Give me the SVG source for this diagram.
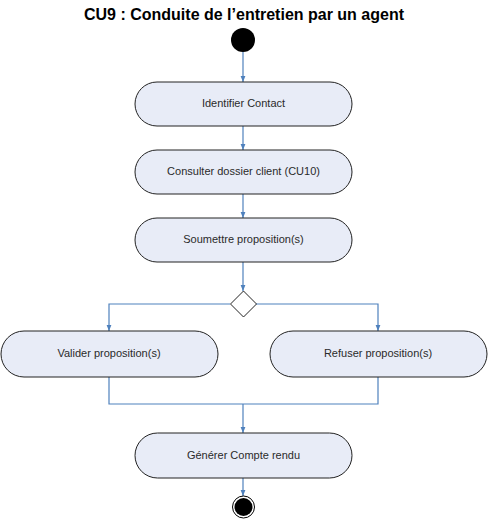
<svg xmlns="http://www.w3.org/2000/svg" width="488" height="520" viewBox="0 0 488 520">
<style>
.t{font-family:"Liberation Sans",Arial,sans-serif;font-size:11px;fill:#2a2a2a;text-anchor:middle}
.title{font-family:"Liberation Sans",Arial,sans-serif;font-size:16px;font-weight:bold;fill:#000;text-anchor:middle}
.act{fill:#E8ECF7;stroke:#222;stroke-width:1}
.c{fill:none;stroke:#4F81BD;stroke-width:1.2}
</style>
<defs>
<marker id="arr" viewBox="0 0 10 10" refX="10" refY="5" markerWidth="6" markerHeight="6" orient="auto" markerUnits="userSpaceOnUse">
<path d="M0,1 L10,5 L0,9 Z" fill="#4F81BD"/>
</marker>
</defs>
<rect width="488" height="520" fill="#fff"/>
<text class="title" x="244" y="20">CU9 : Conduite de l’entretien par un agent</text>
<g id="connectors">
<line class="c" x1="243" y1="52" x2="243" y2="82" marker-end="url(#arr)"/>
<line class="c" x1="243" y1="126" x2="243" y2="150" marker-end="url(#arr)"/>
<line class="c" x1="243" y1="194" x2="243" y2="218" marker-end="url(#arr)"/>
<line class="c" x1="243" y1="262" x2="243" y2="291" marker-end="url(#arr)"/>
<polyline class="c" points="230,304 109,304 109,331" marker-end="url(#arr)"/>
<polyline class="c" points="256,304 378,304 378,331" marker-end="url(#arr)"/>
<polyline class="c" points="109,377 109,404 378,404 378,377"/>
<line class="c" x1="243" y1="404" x2="243" y2="433" marker-end="url(#arr)"/>
<line class="c" x1="243" y1="478" x2="243" y2="496" marker-end="url(#arr)"/>
</g>
<g id="start"><circle cx="243" cy="40" r="12" fill="#000"/></g>
<g id="identifier"><rect class="act" x="135" y="82" width="217" height="44" rx="22"/><text class="t" x="243.5" y="107">Identifier Contact</text></g>
<g id="consulter"><rect class="act" x="135" y="150" width="217" height="44" rx="22"/><text class="t" x="243.5" y="175">Consulter dossier client (CU10)</text></g>
<g id="soumettre"><rect class="act" x="135" y="218" width="217" height="44" rx="22"/><text class="t" x="243.5" y="243">Soumettre proposition(s)</text></g>
<g id="decision"><polygon points="243.5,291 256.5,304 243.5,317 230.5,304" fill="#fff" stroke="#222" stroke-width="1"/></g>
<g id="valider"><rect class="act" x="1" y="331" width="217" height="46" rx="23"/><text class="t" x="109" y="357">Valider proposition(s)</text></g>
<g id="refuser"><rect class="act" x="270" y="331" width="217" height="46" rx="23"/><text class="t" x="378" y="357">Refuser proposition(s)</text></g>
<g id="generer"><rect class="act" x="135" y="433" width="217" height="45" rx="22.5"/><text class="t" x="243.5" y="459">Générer Compte rendu</text></g>
<g id="end"><circle cx="243.5" cy="507" r="11" fill="#fff" stroke="#000" stroke-width="1"/><circle cx="243.5" cy="507" r="9" fill="#000"/></g>
</svg>
